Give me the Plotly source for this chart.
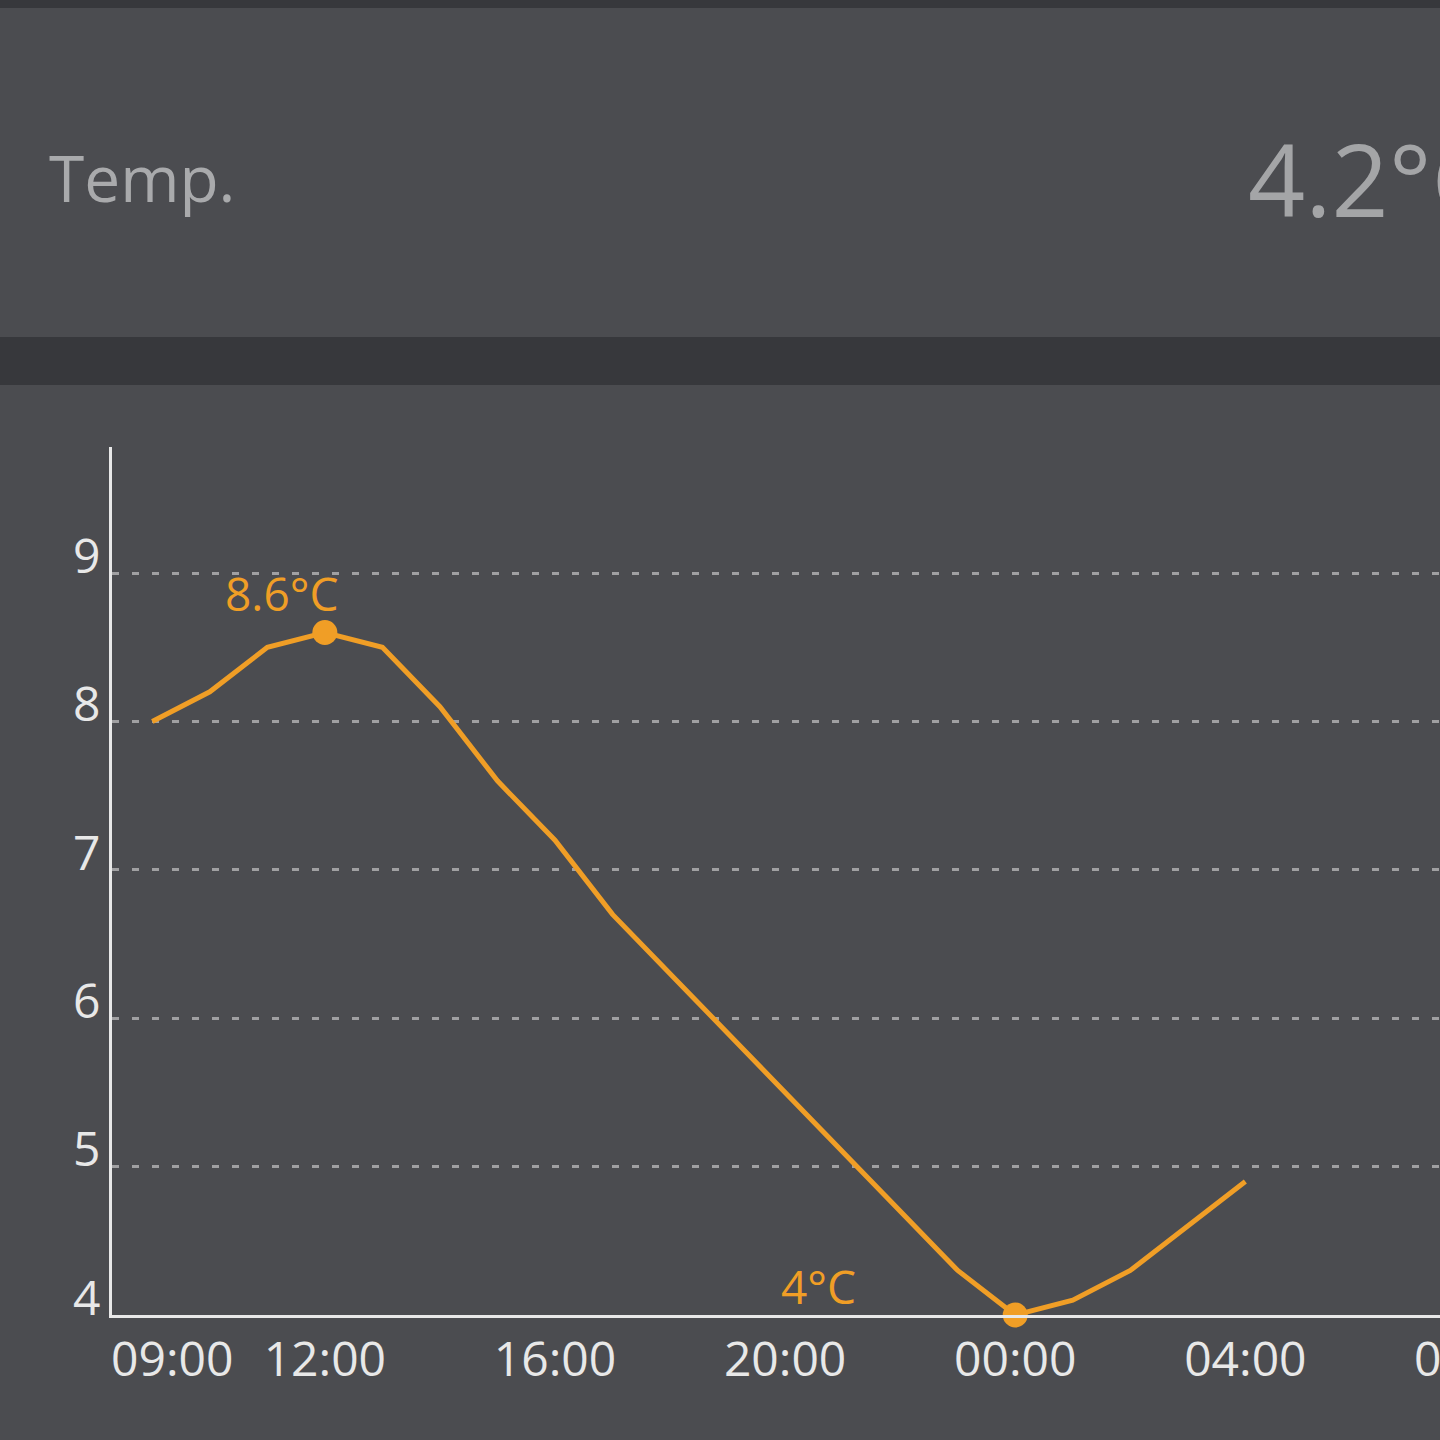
import plotly.graph_objects as go

# --- Hourly temperature readings (°C) ---
times = [
    "2024-01-01 09:00", "2024-01-01 10:00", "2024-01-01 11:00", "2024-01-01 12:00",
    "2024-01-01 13:00", "2024-01-01 14:00", "2024-01-01 15:00", "2024-01-01 16:00",
    "2024-01-01 17:00", "2024-01-01 18:00", "2024-01-01 19:00", "2024-01-01 20:00",
    "2024-01-01 21:00", "2024-01-01 22:00", "2024-01-01 23:00", "2024-01-02 00:00",
    "2024-01-02 01:00", "2024-01-02 02:00", "2024-01-02 03:00", "2024-01-02 04:00",
]
temps = [8.0, 8.2, 8.5, 8.6, 8.5, 8.1, 7.6, 7.2, 6.7, 6.3,
         5.9, 5.5, 5.1, 4.7, 4.3, 4.0, 4.1, 4.3, 4.6, 4.9]

# x tick positions and labels
tick_times = ["2024-01-01 12:00", "2024-01-01 16:00", "2024-01-01 20:00",
              "2024-01-02 00:00", "2024-01-02 04:00"]
tick_labels = ["12:00", "16:00", "20:00", "00:00", "04:00"]
y_ticks = [4, 5, 6, 7, 8, 9]

current_temp = "4.2°C"

ORANGE = "#f09e26"
BG = "#4b4c50"
DARK = "#37383c"
AXIS = "#e8e8e8"
FONT = "Open Sans"

i_max = temps.index(max(temps))
i_min = temps.index(min(temps))

fig = go.Figure()

# temperature line
fig.add_trace(go.Scatter(
    x=times, y=temps, mode="lines",
    line=dict(color=ORANGE, width=5),
    cliponaxis=False, hoverinfo="x+y",
))

# max / min dots
fig.add_trace(go.Scatter(
    x=[times[i_max], times[i_min]], y=[temps[i_max], temps[i_min]],
    mode="markers", marker=dict(color=ORANGE, size=25),
    cliponaxis=False, hoverinfo="skip",
))

# --- labels for max / min ---
fig.add_annotation(x=times[i_max], y=temps[i_max], text=f"{temps[i_max]:g}°C",
                   showarrow=False, xanchor="center", yanchor="bottom",
                   xshift=-43, yshift=6, font=dict(family=FONT, size=46, color=ORANGE))
fig.add_annotation(x=times[i_min], y=temps[i_min], text=f"{temps[i_min]:g}°C",
                   showarrow=False, xanchor="center", yanchor="bottom",
                   xshift=-197, yshift=-4, font=dict(family=FONT, size=46, color=ORANGE))

# first and last hour labels (placed by hand like the app does)
fig.add_annotation(x=times[0], y=0, yref="paper", text="09:00", showarrow=False,
                   xanchor="center", yanchor="top", xshift=20, yshift=-8,
                   font=dict(family=FONT, size=48, color=AXIS))
fig.add_annotation(x=1.0264, y=0, xref="paper", yref="paper", text="08:00",
                   showarrow=False, xanchor="center", yanchor="top", yshift=-8,
                   font=dict(family=FONT, size=48, color=AXIS))

# --- header card ---
fig.add_shape(type="rect", xref="paper", yref="paper", x0=-0.2, x1=1.2,
              y0=1.5058, y1=1.6, fillcolor=DARK, line_width=0, layer="below")
fig.add_shape(type="rect", xref="paper", yref="paper", x0=-0.2, x1=1.2,
              y0=1.0714, y1=1.1267, fillcolor=DARK, line_width=0, layer="below")
fig.add_annotation(x=-0.049, y=1.31, xref="paper", yref="paper", text="Temp.",
                   showarrow=False, xanchor="left", yanchor="middle",
                   font=dict(family=FONT, size=64, color="#a9aaac"))
fig.add_annotation(x=0.854, y=1.31, xref="paper", yref="paper", text=current_temp,
                   showarrow=False, xanchor="left", yanchor="middle",
                   font=dict(family=FONT, size=100, color="#a4a5a7"))

fig.update_layout(
    width=1440, height=1440,
    margin=dict(l=112, r=0, t=447, b=125),
    paper_bgcolor=BG, plot_bgcolor=BG,
    showlegend=False,
    font=dict(family=FONT, color=AXIS),
)

fig.update_xaxes(
    range=["2024-01-01 08:18", "2024-01-02 07:23"],
    tickvals=tick_times, ticktext=tick_labels,
    showgrid=False, zeroline=False,
    showline=True, linecolor=AXIS, linewidth=3,
    ticks="", tickfont=dict(family=FONT, size=48, color=AXIS),
)
fig.update_yaxes(
    range=[4, 9.85],
    tickvals=y_ticks,
    showgrid=True, gridcolor="#a0a0a2", gridwidth=2.5, griddash="7px,13px",
    zeroline=False,
    showline=True, linecolor=AXIS, linewidth=3,
    ticks="", ticklabelstandoff=-1, ticklabelshift=-17,
    tickfont=dict(family=FONT, size=48, color=AXIS),
)

# drop the browser's default page margin so the figure fills the window
fig.write_html("out.html", config={"displayModeBar": False},
               post_script="document.body.style.margin='0';")
